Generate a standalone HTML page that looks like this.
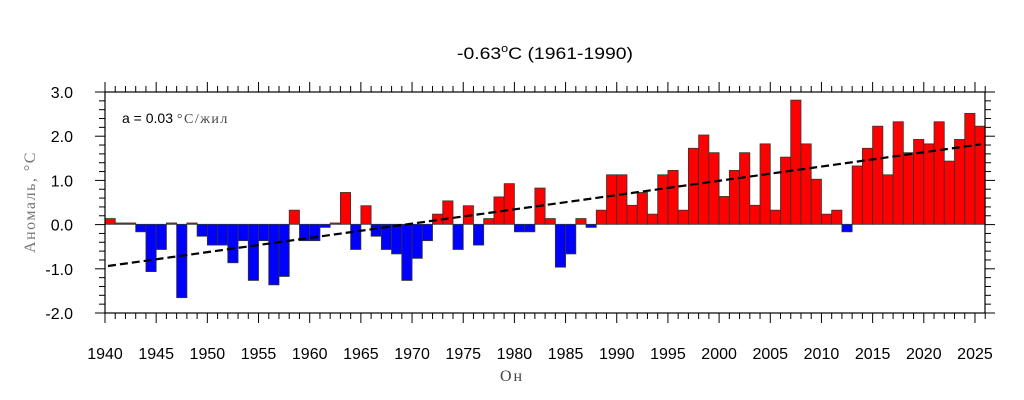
<!DOCTYPE html>
<html><head><meta charset="utf-8"><style>
html,body{margin:0;padding:0;background:#fff;width:1024px;height:400px;overflow:hidden}
svg{display:block}
</style></head><body>
<svg id="s" width="1024" height="400" xmlns="http://www.w3.org/2000/svg" font-family="Liberation Sans, sans-serif">
<text x="457" y="59" font-size="17" textLength="176" lengthAdjust="spacingAndGlyphs">-0.63<tspan font-size="11" dy="-7">o</tspan><tspan dy="7">C (1961-1990)</tspan></text>
<text x="122" y="123" font-size="14">a = 0.03 <tspan font-family="Liberation Serif, DejaVu Serif, serif" fill="#444" letter-spacing="1.5">°C/жил</tspan></text>
<text x="512" y="381" font-size="16" text-anchor="middle" fill="#444" letter-spacing="2" font-family="Liberation Serif, DejaVu Serif, serif">Он</text>
<text transform="translate(35,202) rotate(-90)" font-size="16" text-anchor="middle" fill="#777" letter-spacing="1.5" font-family="Liberation Serif, DejaVu Serif, serif">Аномаль, °C</text>
<g id="bars"></g>
<line x1="108" y1="266" x2="981" y2="144.3" stroke="#000" stroke-width="2.2" stroke-dasharray="8,4"/>
<g id="ax" stroke="#000" stroke-width="1"></g>
<rect x="105" y="92" width="880" height="221" fill="none" stroke="#000" stroke-width="1.2"/>
<g id="lab" font-size="16"></g>
</svg>
<script>
var v=[0.13,0.03,0.03,-0.17,-1.07,-0.57,0.03,-1.66,0.03,-0.27,-0.47,-0.47,-0.87,-0.37,-1.27,-0.37,-1.37,-1.18,0.32,-0.37,-0.37,-0.07,0.03,0.72,-0.57,0.42,-0.27,-0.57,-0.67,-1.27,-0.77,-0.37,0.23,0.53,-0.57,0.42,-0.47,0.13,0.62,0.92,-0.17,-0.17,0.82,
0.13,-0.97,-0.67,0.13,-0.07,0.32,1.12,1.12,0.43,0.72,0.23,1.12,1.22,0.32,1.72,2.02,1.62,0.63,1.22,1.62,0.43,1.82,0.32,1.52,2.81,1.82,1.02,0.23,0.32,-0.17,1.32,1.72,2.22,1.12,2.32,1.62,1.92,1.82,2.32,1.43,1.92,2.51,2.22];
var NS="http://www.w3.org/2000/svg",u=44.2,z=224.3,w=10.235,x0=105;
function el(p,t,a,tx){var e=document.createElementNS(NS,t);for(var k in a)e.setAttribute(k,a[k]);if(tx)e.textContent=tx;document.getElementById(p).appendChild(e);}
v.forEach(function(d,i){var h=Math.abs(d)*u;el("bars","rect",{x:x0+i*w,y:d>0?z-h:z,width:w,height:h,fill:d>0?"#ff0000":"#0000ff",stroke:"#333","stroke-width":0.8});});
for(var i=0;i<=86;i++){var x=x0+i*w,maj=i%5==0,L=maj?10:6;
el("ax","line",{x1:x,y1:313,x2:x,y2:313+L});el("ax","line",{x1:x,y1:92,x2:x,y2:92-L});
if(maj)el("lab","text",{x:x,y:359,"text-anchor":"middle"},String(1940+i));}
for(var j=0;j<=25;j++){var y=313-j*u/5,maj=j%5==0,L=maj?10:6;
el("ax","line",{x1:105,y1:y,x2:105-L,y2:y});el("ax","line",{x1:985,y1:y,x2:985+L,y2:y});
if(maj)el("lab","text",{x:73,y:y+6,"text-anchor":"end"},(j/5-2).toFixed(1));}
</script>
</body></html>
